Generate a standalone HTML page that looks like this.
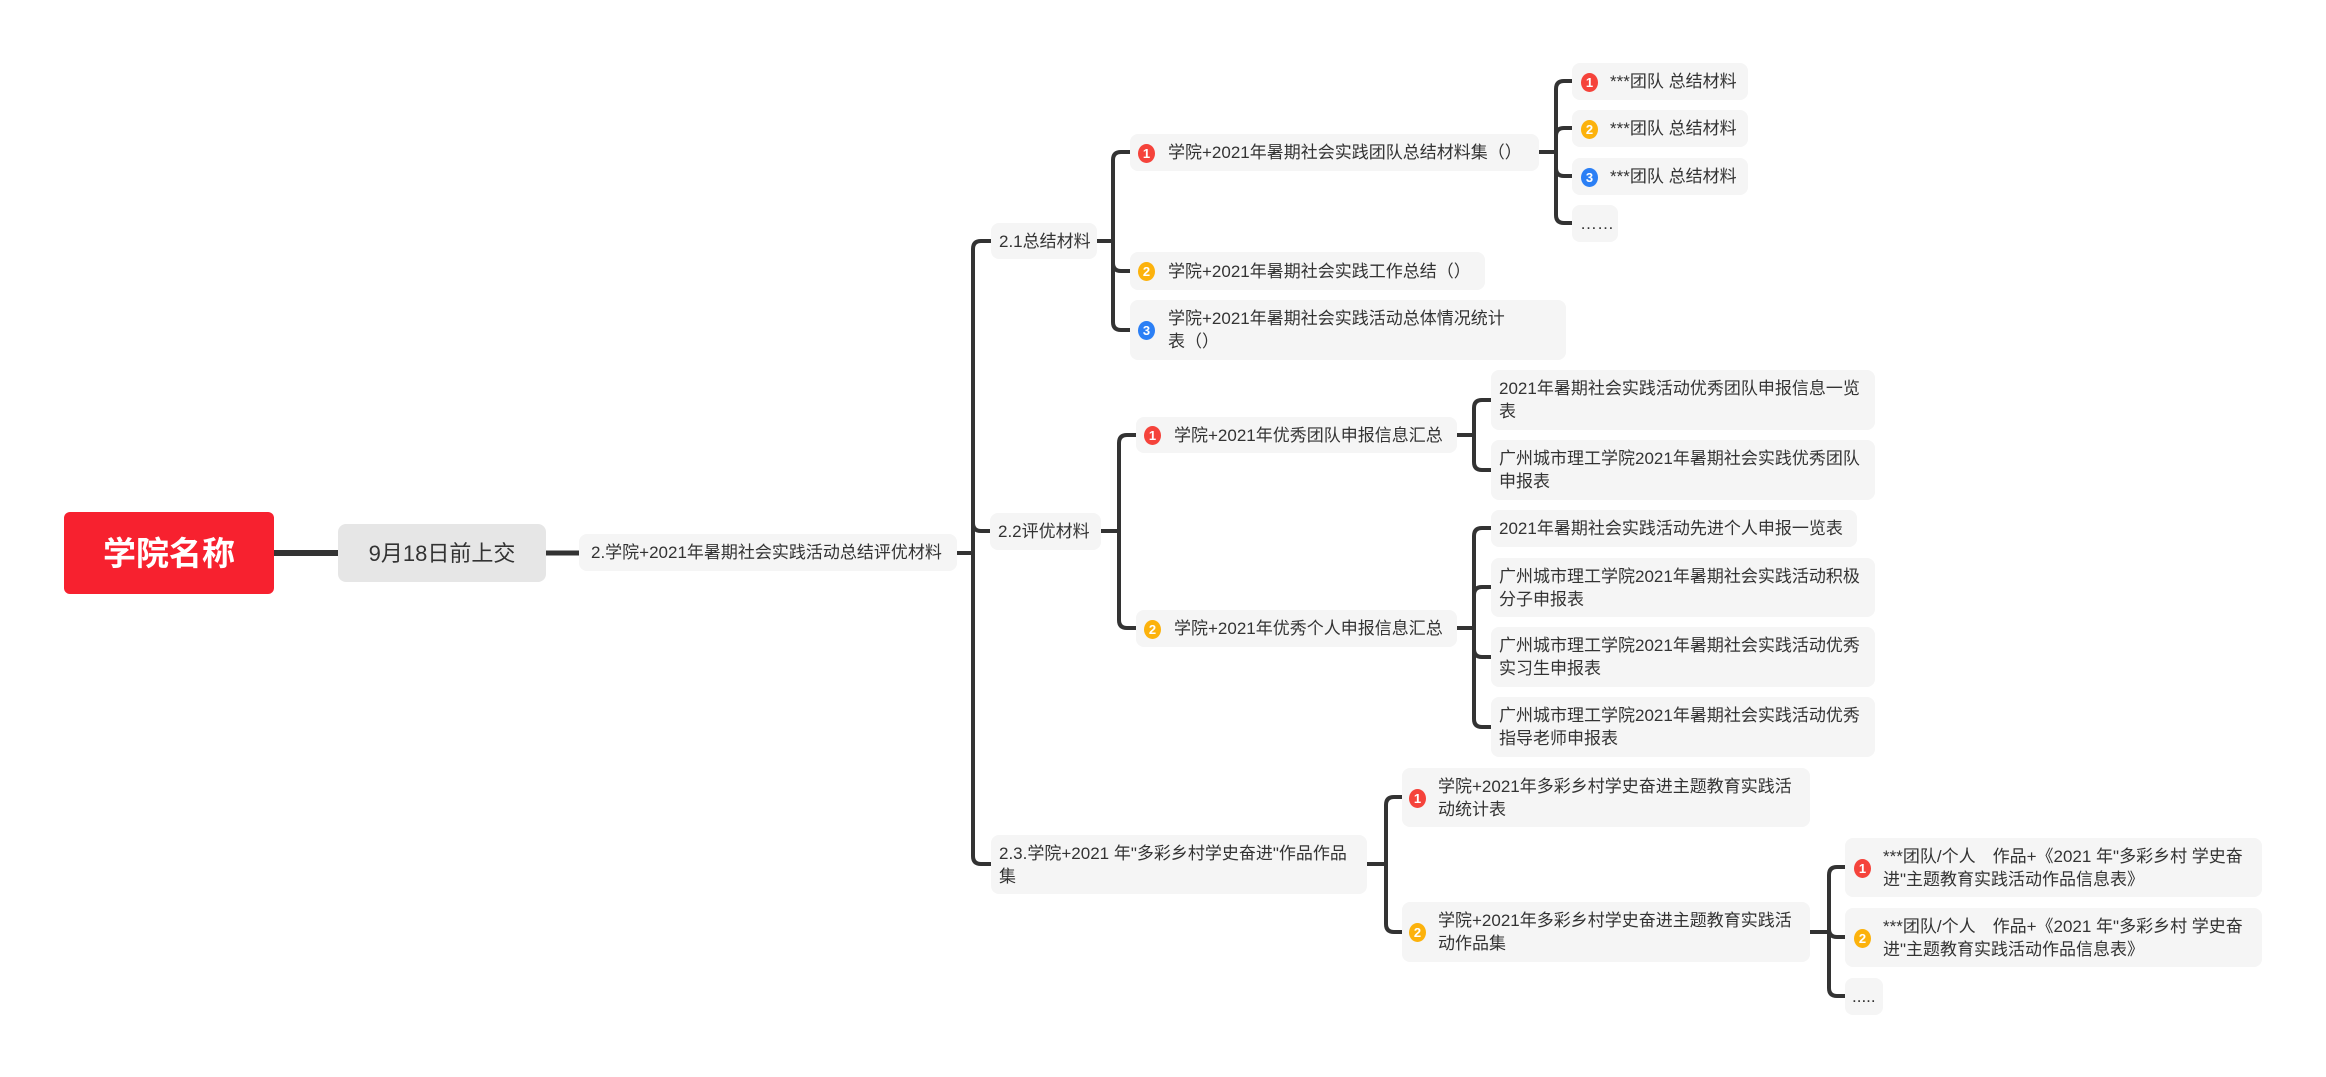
<!DOCTYPE html>
<html><head><meta charset="utf-8"><style>
body{margin:0;width:2326px;height:1077px;background:#fff;position:relative;overflow:hidden;font-family:"Liberation Sans","Noto Sans CJK SC",sans-serif;}
.n{position:absolute;background:#f5f5f5;border-radius:8px;color:#333;font-size:17px;line-height:23px;box-sizing:border-box;padding-left:12px;display:flex;align-items:center;}
.n span{display:block;}
.b{position:absolute;width:17px;height:19px;border-radius:50%;color:#fff;font-size:13px;font-weight:bold;font-style:normal;line-height:19px;text-align:center;top:50%;margin-top:-9px;}
.r{background:#f5433b}.o{background:#fcb20c}.bl{background:#2b7ff5}
svg{position:absolute;left:0;top:0}
</style></head><body>
<svg width="2326" height="1077" fill="none" stroke="#333" stroke-width="4">
<path d="M274 553H338" stroke-width="6"/>
<path d="M546 553H579" stroke-width="5"/>
<path d="M957 553H973M973 553V249Q973 241 981 241H991M973 553V523Q973 531 981 531H990M973 553V856Q973 864 981 864H991"/>
<path d="M1097 241H1113M1113 241V160Q1113 152 1121 152H1130M1113 241V263Q1113 271 1121 271H1130M1113 241V322Q1113 330 1121 330H1130"/>
<path d="M1539 152H1556M1556 152V89Q1556 81 1564 81H1572M1556 152V136Q1556 128 1564 128H1572M1556 152V168Q1556 176 1564 176H1572M1556 152V215Q1556 223 1564 223H1572"/>
<path d="M1101 531H1119M1119 531V443Q1119 435 1127 435H1136M1119 531V620Q1119 628 1127 628H1136"/>
<path d="M1457 435H1474M1474 435V408Q1474 400 1482 400H1491M1474 435V462Q1474 470 1482 470H1491"/>
<path d="M1457 628H1474M1474 628V536Q1474 528 1482 528H1491M1474 628V595Q1474 587 1482 587H1491M1474 628V649Q1474 657 1482 657H1491M1474 628V719Q1474 727 1482 727H1491"/>
<path d="M1367 864H1386M1386 864V805Q1386 797 1394 797H1402M1386 864V924Q1386 932 1394 932H1402"/>
<path d="M1810 932H1829M1829 932V875Q1829 867 1837 867H1845M1829 932V929Q1829 937 1837 937H1845M1829 932V988Q1829 996 1837 996H1845"/>
</svg>

<div class="n" style="left:64px;top:512px;width:210px;height:82px;background:#f7212f;color:#fff;font-size:33px;font-weight:bold;justify-content:center;padding:0;border-radius:6px">学院名称</div>
<div class="n" style="left:338px;top:524px;width:208px;height:58px;background:#e6e6e6;font-size:22px;justify-content:center;padding:0">9月18日前上交</div>
<div class="n" style="left:579px;top:534px;width:378px;height:37px;font-size:17px">2.学院+2021年暑期社会实践活动总结评优材料</div>

<div class="n" style="left:991px;top:223px;width:106px;height:36px;padding-left:8px">2.1总结材料</div>
<div class="n" style="left:1130px;top:134px;width:409px;height:37px;padding-left:38px"><i class="b r" style="left:8px">1</i>学院+2021年暑期社会实践团队总结材料集（）</div>
<div class="n" style="left:1130px;top:252px;width:355px;height:38px;padding-left:38px"><i class="b o" style="left:8px">2</i>学院+2021年暑期社会实践工作总结（）</div>
<div class="n" style="left:1130px;top:300px;width:436px;height:60px;padding-left:38px"><i class="b bl" style="left:8px">3</i><span>学院+2021年暑期社会实践活动总体情况统计<br>表（）</span></div>
<div class="n" style="left:1572px;top:63px;width:176px;height:37px;padding-left:38px"><i class="b r" style="left:9px">1</i>***团队 总结材料</div>
<div class="n" style="left:1572px;top:110px;width:176px;height:37px;padding-left:38px"><i class="b o" style="left:9px">2</i>***团队 总结材料</div>
<div class="n" style="left:1572px;top:158px;width:176px;height:37px;padding-left:38px"><i class="b bl" style="left:9px">3</i>***团队 总结材料</div>
<div class="n" style="left:1572px;top:205px;width:46px;height:37px;padding-left:8px">……</div>

<div class="n" style="left:990px;top:513px;width:111px;height:37px;padding-left:8px">2.2评优材料</div>
<div class="n" style="left:1136px;top:417px;width:321px;height:36px;padding-left:38px"><i class="b r" style="left:8px">1</i>学院+2021年优秀团队申报信息汇总</div>
<div class="n" style="left:1136px;top:610px;width:321px;height:37px;padding-left:38px"><i class="b o" style="left:8px">2</i>学院+2021年优秀个人申报信息汇总</div>
<div class="n" style="left:1491px;top:370px;width:384px;height:60px;padding-left:8px"><span>2021年暑期社会实践活动优秀团队申报信息一览<br>表</span></div>
<div class="n" style="left:1491px;top:440px;width:384px;height:60px;padding-left:8px"><span>广州城市理工学院2021年暑期社会实践优秀团队<br>申报表</span></div>
<div class="n" style="left:1491px;top:510px;width:366px;height:37px;padding-left:8px">2021年暑期社会实践活动先进个人申报一览表</div>
<div class="n" style="left:1491px;top:558px;width:384px;height:59px;padding-left:8px"><span>广州城市理工学院2021年暑期社会实践活动积极<br>分子申报表</span></div>
<div class="n" style="left:1491px;top:627px;width:384px;height:60px;padding-left:8px"><span>广州城市理工学院2021年暑期社会实践活动优秀<br>实习生申报表</span></div>
<div class="n" style="left:1491px;top:697px;width:384px;height:60px;padding-left:8px"><span>广州城市理工学院2021年暑期社会实践活动优秀<br>指导老师申报表</span></div>

<div class="n" style="left:991px;top:835px;width:376px;height:59px;padding-left:8px"><span>2.3.学院+2021 年"多彩乡村学史奋进"作品作品<br>集</span></div>
<div class="n" style="left:1402px;top:768px;width:408px;height:59px;padding-left:36px"><i class="b r" style="left:7px">1</i><span>学院+2021年多彩乡村学史奋进主题教育实践活<br>动统计表</span></div>
<div class="n" style="left:1402px;top:902px;width:408px;height:60px;padding-left:36px"><i class="b o" style="left:7px">2</i><span>学院+2021年多彩乡村学史奋进主题教育实践活<br>动作品集</span></div>
<div class="n" style="left:1845px;top:838px;width:417px;height:59px;padding-left:38px"><i class="b r" style="left:9px">1</i><span>***团队/个人　作品+《2021 年"多彩乡村 学史奋<br>进"主题教育实践活动作品信息表》</span></div>
<div class="n" style="left:1845px;top:908px;width:417px;height:59px;padding-left:38px"><i class="b o" style="left:9px">2</i><span>***团队/个人　作品+《2021 年"多彩乡村 学史奋<br>进"主题教育实践活动作品信息表》</span></div>
<div class="n" style="left:1845px;top:978px;width:38px;height:37px;padding-left:7px">.....</div>
</body></html>
